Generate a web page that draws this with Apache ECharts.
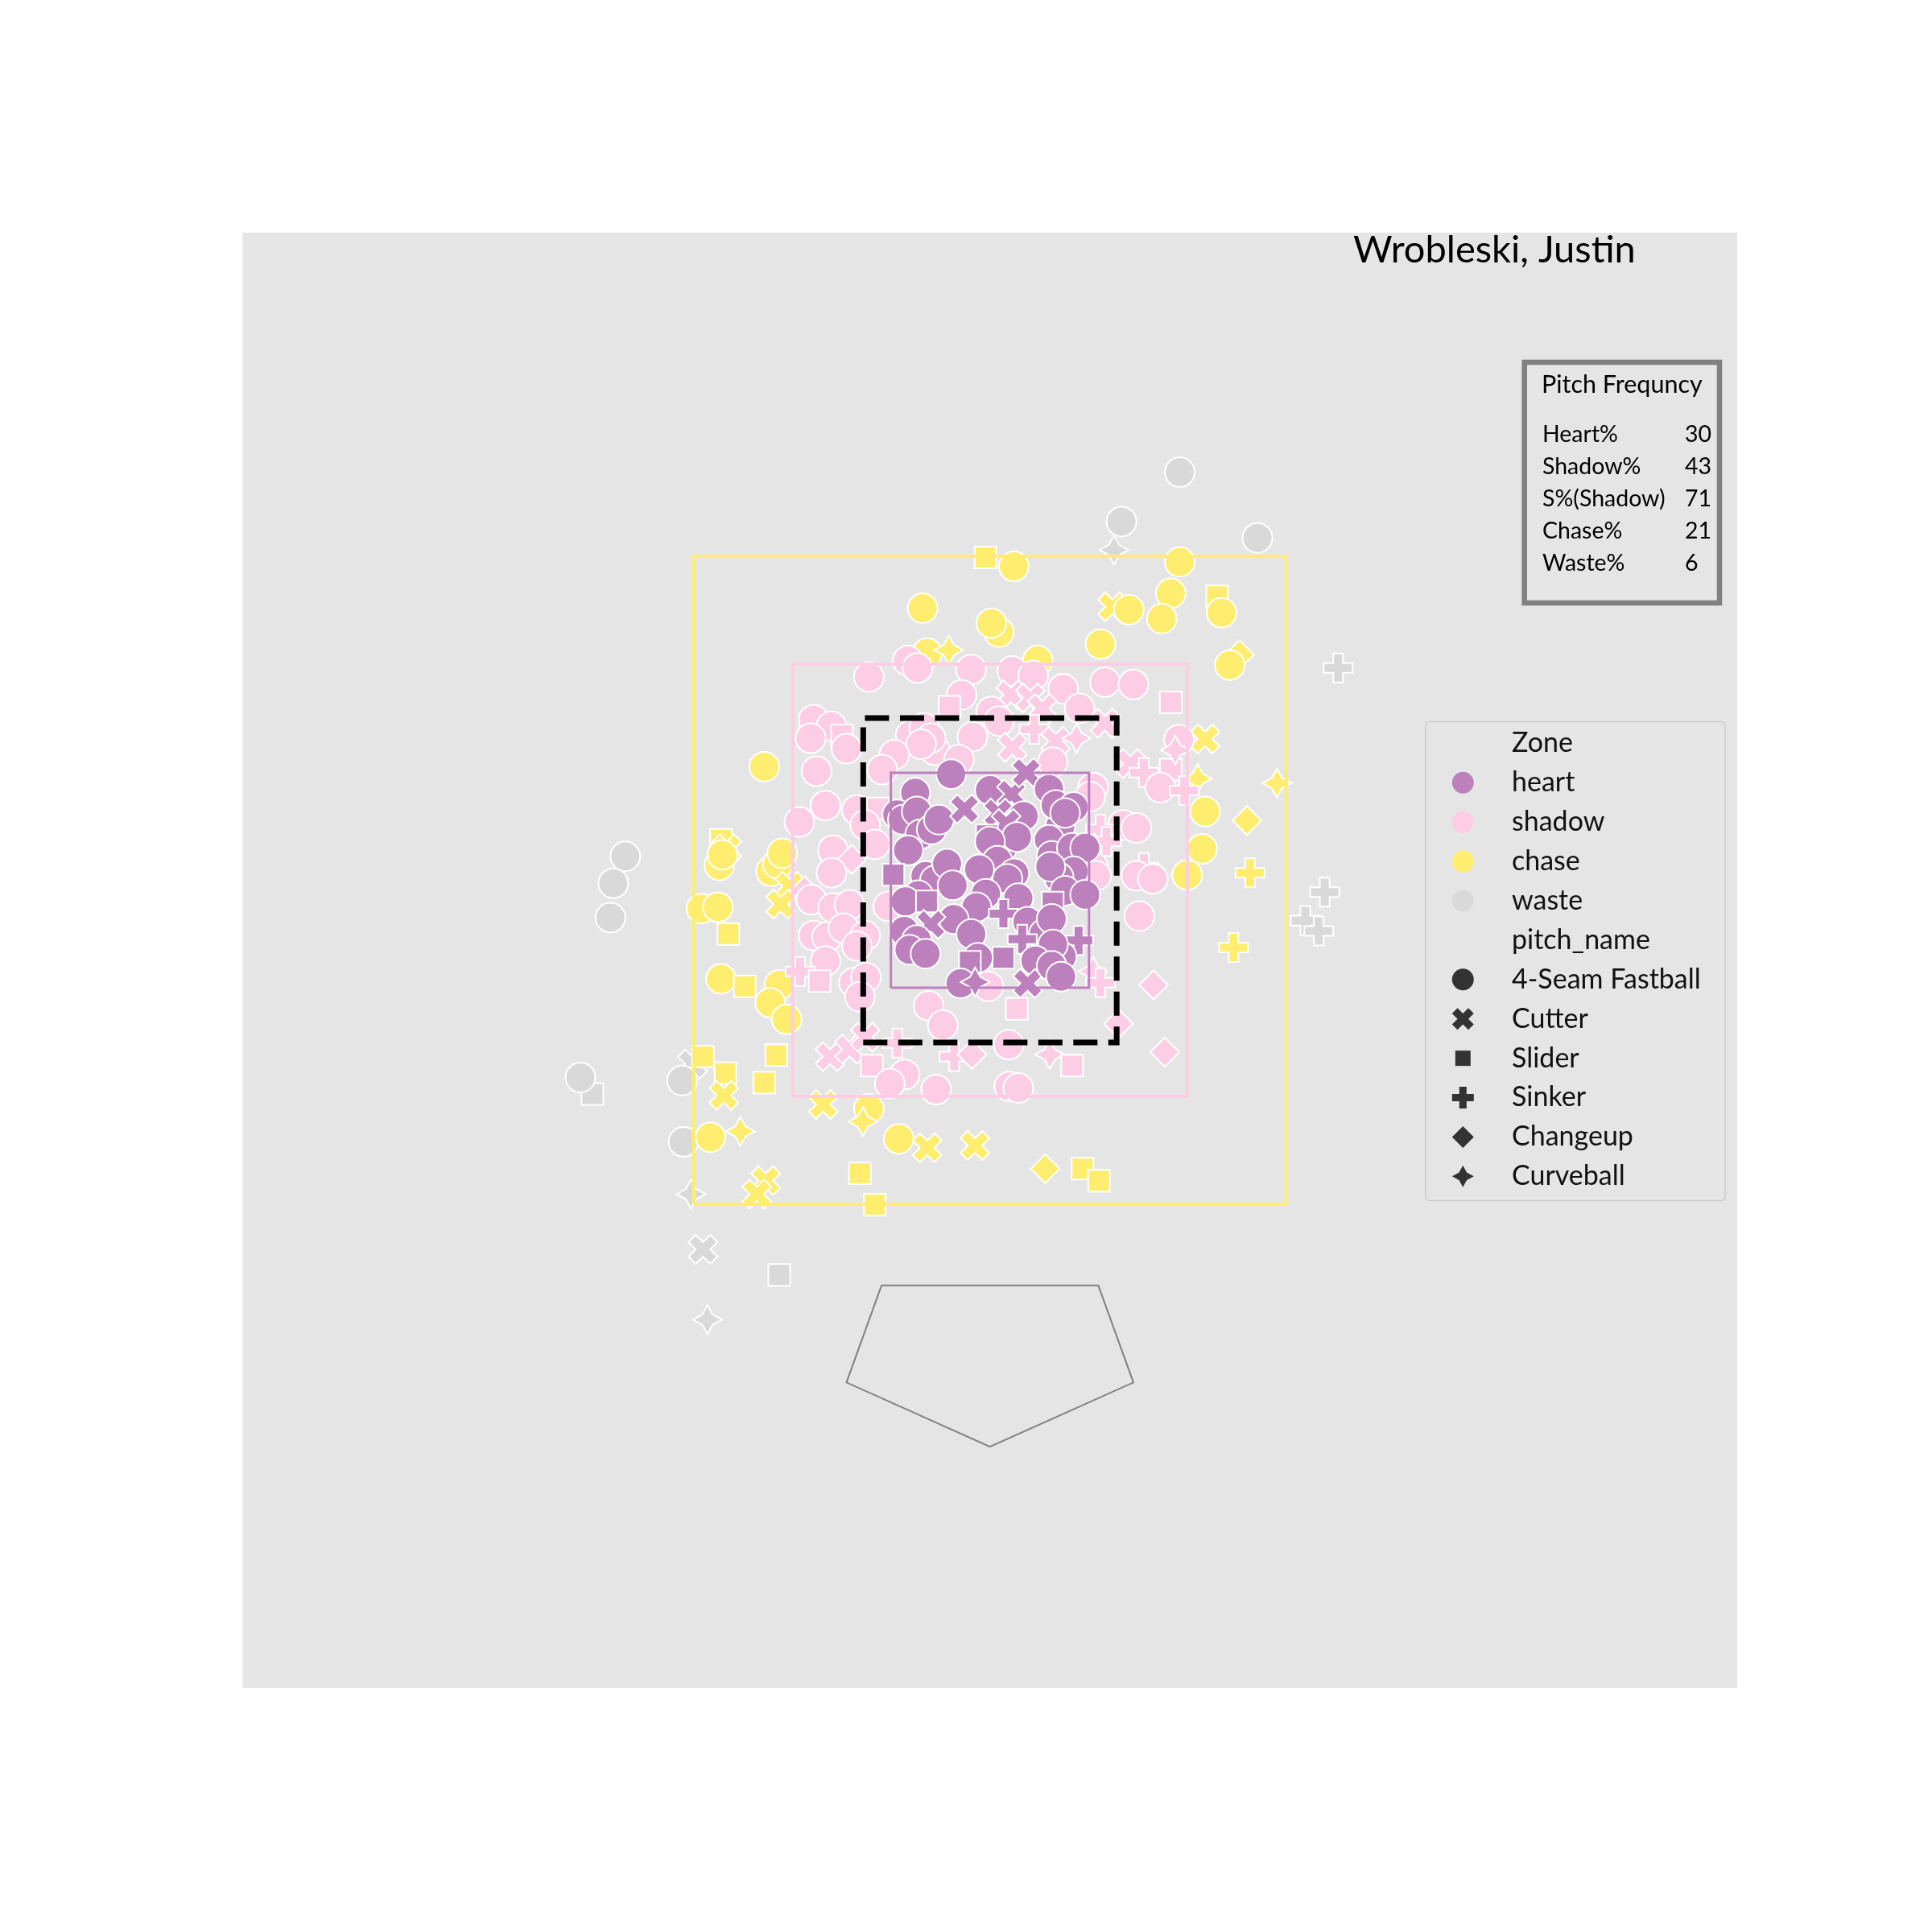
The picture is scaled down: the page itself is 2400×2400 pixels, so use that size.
<!DOCTYPE html>
<html><head><meta charset="utf-8">
<script src="https://cdn.jsdelivr.net/npm/echarts@6/dist/echarts.min.js"></script>
<style>html,body{margin:0;padding:0;background:#fff}#c{width:2400px;height:2400px}</style>
</head><body><div id="c"></div>
<script>
// ---------- data (plate_x / plate_z in inches) ----------
const chartTitle = 'Wrobleski, Justin';
const pitchCodes = ['FF', 'FC', 'SL', 'SI', 'CH', 'CU'];
const pitchNames = ['4-Seam Fastball', 'Cutter', 'Slider', 'Sinker', 'Changeup', 'Curveball'];
const zoneNames = ['heart', 'shadow', 'chase', 'waste'];
const zoneColors = ['#BC80BD', '#FCCDE5', '#FFED6F', '#D9D9D9'];
const freqTitle = 'Pitch Frequncy';
const freqLabels = ['Heart%', 'Shadow%', 'S%(Shadow)', 'Chase%', 'Waste%'];
const freqValues = [30, 43, 71, 21, 6];

const waste = [
  [12.7,57.3,'FF'],[8.8,54.0,'FF'],[17.9,52.9,'FF'],[8.3,52.1,'CU'],[23.3,44.2,'SI'],
  [-24.4,31.6,'FF'],[-25.2,29.8,'FF'],[-25.4,27.5,'FF'],[22.4,29.2,'SI'],[21.1,27.3,'SI'],[22.0,26.6,'SI'],
  [-26.6,15.7,'SL'],[-27.4,16.8,'FF'],[-19.9,17.7,'FC'],[-20.6,16.6,'FF'],[-20.5,12.5,'FF'],
  [-20.0,9.0,'CU'],[-19.2,5.3,'FC'],[-14.1,3.6,'SL'],[-18.9,0.6,'CU']
];

const chase = [
  [-0.3,51.6,'SL'],[1.6,51.0,'FF'],[-4.5,48.2,'FF'],[0.6,46.6,'FF'],[0.1,47.2,'FF'],[-4.2,45.2,'FF'],
  [-2.75,45.4,'CU'],[3.2,44.7,'FF'],[7.4,45.8,'FF'],
  [12.7,51.3,'FF'],[12.1,49.2,'FF'],[11.5,47.5,'FF'],[8.2,48.3,'FC'],[9.3,48.1,'FF'],[15.2,49.0,'SL'],
  [15.5,47.9,'FF'],[16.7,45.1,'CH'],[16.05,44.4,'FF'],[14.4,39.45,'FC'],
  [13.9,36.8,'CU'],[19.2,36.5,'CU'],[14.4,34.6,'FF'],[17.2,34.0,'CH'],[14.2,32.1,'FF'],[13.2,30.35,'FF'],
  [17.4,30.5,'SI'],[16.3,25.5,'SI'],
  [-18.0,32.7,'SL'],[-18.1,31.0,'FF'],[-17.6,32.1,'FC'],[-17.9,31.7,'FF'],[-15.1,37.6,'FF'],
  [-14.65,30.6,'FF'],[-14.2,31.1,'FF'],[-13.9,31.8,'FF'],[-13.4,29.6,'FC'],[-14.0,28.4,'FC'],
  [-19.3,28.1,'FF'],[-18.2,28.2,'FF'],[-17.5,26.4,'SL'],[-18.0,23.4,'FF'],[-16.4,22.9,'SL'],
  [-14.1,23.0,'FF'],[-14.7,21.8,'FF'],[-13.6,20.7,'FF'],
  [-19.2,18.2,'SL'],[-17.7,17.1,'SL'],[-14.3,18.3,'SL'],[-15.1,16.45,'SL'],[-17.8,15.6,'FC'],
  [-11.15,15.0,'FC'],[-18.7,12.8,'FF'],[-16.7,13.2,'CU'],[-15.0,9.9,'FC'],[-15.6,9.0,'FC'],
  [-8.1,14.7,'FF'],[-8.5,13.85,'CU'],[-6.1,12.7,'FF'],[-4.2,12.1,'FC'],[-1.0,12.25,'FC'],
  [-8.7,10.4,'SL'],[-7.7,8.3,'SL'],[3.7,10.7,'CH'],[6.2,10.7,'SL'],[7.3,9.9,'SL']
];

const shadow = [
  [-8.1,43.6,'FF'],[-5.5,44.7,'FF'],[-4.85,44.2,'FF'],[-1.26,44.1,'FF'],[1.5,44.0,'FF'],[2.9,43.7,'FF'],
  [4.9,42.8,'FF'],[7.7,43.25,'FF'],[9.6,43.1,'FF'],[12.1,41.9,'SL'],[-1.9,42.4,'FF'],[1.4,42.4,'FC'],[2.7,42.2,'FC'],
  [3.5,41.5,'FC'],[0.1,41.3,'FF'],[0.6,40.65,'FF'],[6.0,41.5,'FF'],[-2.7,41.6,'SL'],[-5.3,39.7,'FF'],
  [-4.4,40.2,'FF'],[-3.7,38.7,'FF'],[-3.96,39.5,'FF'],[-4.6,39.1,'FF'],[-1.17,39.6,'FF'],[2.96,40.1,'SI'],
  [7.7,40.5,'FC'],[-11.8,40.75,'FF'],[-10.6,40.3,'FF'],[-12.0,39.5,'FF'],[-9.9,39.7,'SL'],[-9.6,38.8,'FF'],[-6.4,38.4,'FF'],
  [-7.2,37.4,'FF'],[-2.07,38.06,'FF'],[1.5,38.9,'FC'],[4.4,39.3,'FC'],[5.8,39.5,'CU'],[4.2,37.9,'FF'],
  [9.4,37.8,'FC'],[10.3,37.2,'SI'],[12.1,37.4,'SL'],[12.65,39.4,'FF'],[12.4,38.7,'CU'],[-11.6,37.3,'FF'],
  [-11.0,35.0,'FF'],[-12.75,33.9,'FF'],[-8.9,34.7,'FF'],[-7.5,34.8,'SL'],[-8.35,33.7,'FF'],[6.9,36.2,'FF'],
  [6.7,35.6,'FF'],[11.4,36.2,'FF'],[13.0,36.0,'SI'],[8.9,33.7,'FF'],[9.8,33.5,'FF'],[7.4,33.4,'SI'],[7.8,32.6,'SI'],
  [-10.5,32.0,'FF'],[-7.7,32.4,'FF'],[-9.25,31.4,'CH'],[-10.6,30.5,'FF'],[6.9,30.9,'FF'],[7.1,30.3,'FF'],
  [10.3,30.85,'SI'],[9.8,30.3,'FF'],[10.9,30.1,'FF'],
  [-12.4,29.3,'CH'],[-11.95,28.7,'FF'],[-10.5,28.15,'FF'],[-9.4,28.35,'FF'],[-6.8,28.25,'FF'],[10.0,27.6,'FF'],
  [-11.8,26.3,'FF'],[-10.9,26.2,'FF'],[-9.8,26.8,'FF'],[-8.35,26.3,'FF'],[-8.9,25.6,'FF'],
  [-11.0,24.6,'FF'],[-12.7,23.9,'SI'],[-11.4,23.25,'SL'],[-9.1,23.15,'FF'],[-8.3,23.5,'FF'],[-8.7,22.2,'FF'],
  [6.9,23.9,'CU'],[7.4,23.15,'SI'],[10.95,23.0,'CH'],[-0.1,22.9,'FF'],[1.8,21.4,'SL'],
  [-4.1,21.6,'FF'],[-3.15,20.3,'FF'],[8.6,20.4,'CH'],[1.25,19.0,'FF'],[4.0,18.35,'CU'],[11.7,18.5,'CH'],
  [-2.4,18.2,'SI'],[-1.2,18.35,'CH'],[-6.2,19.1,'SI'],[-10.7,18.2,'FC'],[-9.4,18.7,'FC'],[-8.35,19.5,'FC'],[-7.9,17.6,'SL'],
  [5.5,17.6,'SL'],[1.3,16.2,'FF'],[1.9,16.1,'FF'],[-3.6,16.0,'FF'],[-5.7,17.0,'FF'],[-6.7,16.4,'FF']
];

const heart = [
  [-2.6,37.1,'FF'],[-5.0,35.85,'FF'],[-6.2,34.4,'FF'],[-5.83,34.05,'FF'],[-4.9,34.6,'FF'],[-4.67,33.07,'FF'],
  [-3.9,33.4,'FF'],[-3.41,34.05,'FF'],[-5.47,32.0,'FF'],[-1.7,34.77,'FC'],[0.0,36.03,'FF'],[1.44,35.76,'FC'],
  [2.43,37.2,'FC'],[3.95,36.1,'FF'],[4.7,33.6,'FF'],[4.4,35.04,'FF'],[5.6,34.9,'FF'],[5.03,34.5,'FF'],
  [2.25,34.3,'FF'],[0.54,34.5,'FC'],[1.08,33.8,'FC'],[-0.2,33.0,'SL'],[0.81,32.17,'FF'],[1.8,32.9,'FF'],
  [0.0,32.6,'FF'],[3.95,32.7,'FF'],[4.13,31.63,'FF'],[5.48,32.17,'FF'],[6.37,32.17,'FF'],[5.6,30.6,'FF'],
  [4.6,30.2,'FF'],[4.04,30.9,'FF'],[0.5,31.3,'FF'],[1.62,30.46,'FF'],[1.17,30.1,'FF'],[-0.72,30.73,'FF'],
  [-3.2,30.5,'FF'],[-4.31,30.28,'FF'],[-3.68,30.0,'FF'],[-2.87,31.1,'FF'],[-2.5,29.66,'FF'],[-6.46,30.37,'SL'],
  [5.03,29.3,'FF'],[6.37,29.03,'FF'],[4.2,28.5,'SL'],[-4.8,29.0,'FF'],[-5.65,28.58,'FF'],[-4.22,28.58,'SL'],
  [-0.27,29.1,'FF'],[1.9,28.8,'FF'],[-0.9,28.2,'FF'],[-2.42,27.4,'FF'],[-3.95,27.05,'FC'],[-5.74,26.6,'FF'],
  [-4.9,26.0,'FF'],[-1.25,26.4,'FF'],[0.9,27.77,'SI'],[2.52,27.23,'FF'],[3.6,26.4,'FF'],[4.13,27.41,'FF'],
  [5.93,25.97,'SI'],[2.16,26.06,'SI'],[4.8,24.9,'FF'],[4.22,25.7,'FF'],[3.05,24.63,'FF'],[0.9,24.81,'SL'],
  [-0.8,24.81,'FF'],[-1.34,24.54,'SL'],[-5.38,25.35,'FF'],[-4.31,25.08,'FF'],[-1.97,23.1,'FF'],[-0.99,23.19,'CU'],
  [2.52,23.1,'FC'],[4.13,24.27,'FF'],[4.76,23.55,'FF']
];

// zone boxes (inches): [xmin, xmax, ymin, ymax]
const chaseBox = [-19.82, 19.82, 8.32, 51.68];
const shadowBox = [-13.2, 13.2, 15.54, 44.46];
const heartBox = [-6.63, 6.63, 22.81, 37.19];
const strikeZone = [-8.48, 8.48, 19.15, 40.85];
const homePlate = [[-7.25,2.9],[7.25,2.9],[9.6,-3.6],[0,-7.9],[-9.6,-3.6],[-7.25,2.9]];

// ---------- marker shapes ----------
const T_X = [[0.25,0],[0.5,0.25],[0.75,0],[1,0.25],[0.75,0.5],[1,0.75],[0.75,1],[0.5,0.75],[0.25,1],[0,0.75],[0.25,0.5],[0,0.25]];
const T_P = [[1/3,0],[2/3,0],[2/3,1/3],[1,1/3],[1,2/3],[2/3,2/3],[2/3,1],[1/3,1],[1/3,2/3],[0,2/3],[0,1/3],[1/3,1/3]];
const T_D = [[0.5,0],[1,0.5],[0.5,1],[0,0.5]];
const T_S = [[0.5,0],[0.677,0.323],[1,0.5],[0.677,0.677],[0.5,1],[0.323,0.677],[0,0.5],[0.323,0.323]];
const toPath = t => 'path://' + t.map((p,i)=>(i?'L':'M')+p[0].toFixed(3)+','+p[1].toFixed(3)).join(' ') + ' Z';
const SYM = ['circle', toPath(T_X), 'rect', toPath(T_P), 'diamond', toPath(T_S)];
const SIZE = [37, 36, 27, 36, 36, 36];

function boxLine(b) {
  return [[b[0],b[2]],[b[1],b[2]],[b[1],b[3]],[b[0],b[3]],[b[0],b[2]]];
}
function scatterSeries(pts, color) {
  return {
    type: 'scatter', silent: true, animation: false, z: 2,
    data: pts.map(p => [p[0], p[1], pitchCodes.indexOf(p[2])]),
    symbol: v => SYM[v[2]],
    symbolSize: v => SIZE[v[2]],
    itemStyle: { color: color, borderColor: '#ffffff', borderWidth: 2, opacity: 1 },
    emphasis: { disabled: true }
  };
}
function lineSeries(data, color, width, type) {
  return {
    type: 'line', data: data, symbol: 'none', showSymbol: false, silent: true, animation: false, z: 3,
    lineStyle: { color: color, width: width, type: type || 'solid', cap: 'butt', join: 'miter' },
    emphasis: { disabled: true }
  };
}

// ---------- legend / table graphics ----------
const FONT = 'Lato, "DejaVu Sans", sans-serif';
const G = [];
G.push({ type: 'text', x: 1681, y: 311, z: 10,
  style: { text: chartTitle, font: '47px ' + FONT, fill: '#000', textAlign: 'left', textVerticalAlign: 'middle', align: 'left', verticalAlign: 'middle' } });

// pitch frequency box
G.push({ type: 'rect', z: 10, shape: { x: 1893.7, y: 450, width: 242.3, height: 299 },
  style: { fill: '#E5E5E5', stroke: '#808080', lineWidth: 6.5 } });
G.push({ type: 'text', x: 1915, y: 478, z: 11,
  style: { text: freqTitle, font: '30.5px ' + FONT, fill: '#000', textAlign: 'left', textVerticalAlign: 'middle', align: 'left', verticalAlign: 'middle' } });
freqLabels.forEach((lab, i) => {
  const y = 540 + i * 40;
  G.push({ type: 'text', x: 1916, y: y, z: 11,
    style: { text: lab, font: '28.5px ' + FONT, fill: '#000', textAlign: 'left', textVerticalAlign: 'middle', align: 'left', verticalAlign: 'middle' } });
  G.push({ type: 'text', x: 2093, y: y, z: 11,
    style: { text: String(freqValues[i]), font: '28.5px ' + FONT, fill: '#000', textAlign: 'left', textVerticalAlign: 'middle', align: 'left', verticalAlign: 'middle' } });
});

// legend box
G.push({ type: 'rect', z: 10, shape: { x: 1771, y: 896.5, width: 372, height: 595, r: 5 },
  style: { fill: '#E5E5E5', stroke: '#CCCCCC', lineWidth: 1.5 } });
const rowY = k => 923.4 + k * 48.9;
const legendText = (t, k) => G.push({ type: 'text', x: 1878, y: rowY(k), z: 11,
  style: { text: t, font: '34px ' + FONT, fill: '#111', textAlign: 'left', textVerticalAlign: 'middle', align: 'left', verticalAlign: 'middle' } });
const iconX = 1817.3;
function polyIcon(t, cx, cy, s, color) {
  return { type: 'polygon', z: 11, shape: { points: t.map(p => [cx - s/2 + p[0]*s, cy - s/2 + p[1]*s]) }, style: { fill: color } };
}
legendText('Zone', 0);
zoneNames.forEach((z, i) => {
  G.push({ type: 'circle', z: 11, shape: { cx: iconX, cy: rowY(i + 1), r: 13.5 }, style: { fill: zoneColors[i] } });
  legendText(z, i + 1);
});
legendText('pitch_name', 5);
const dark = '#333333';
pitchNames.forEach((p, i) => {
  const cy = rowY(i + 6);
  if (i === 0) G.push({ type: 'circle', z: 11, shape: { cx: iconX, cy: cy, r: 13.5 }, style: { fill: dark } });
  else if (i === 1) G.push(polyIcon(T_X, iconX, cy, 27, dark));
  else if (i === 2) G.push({ type: 'rect', z: 11, shape: { x: iconX - 9.5, y: cy - 9.5, width: 19, height: 19 }, style: { fill: dark } });
  else if (i === 3) G.push(polyIcon(T_P, iconX, cy, 27, dark));
  else if (i === 4) G.push(polyIcon(T_D, iconX, cy, 27, dark));
  else G.push(polyIcon(T_S, iconX, cy, 27, dark));
  legendText(p, i + 6);
});

const chart = echarts.init(document.getElementById('c'), null, { renderer: 'canvas' });
chart.setOption({
  backgroundColor: '#ffffff',
  animation: false,
  grid: { left: 301.5, top: 289, width: 1856.5, height: 1808, show: true, backgroundColor: '#E5E5E5', borderWidth: 0 },
  xAxis: { type: 'value', min: -50, max: 50, show: false },
  yAxis: { type: 'value', min: -24.05, max: 73.33, show: false },
  series: [
    scatterSeries(waste, zoneColors[3]),
    scatterSeries(chase, zoneColors[2]),
    scatterSeries(shadow, zoneColors[1]),
    scatterSeries(heart, zoneColors[0]),
    lineSeries(boxLine(chaseBox), zoneColors[2], 4),
    lineSeries(boxLine(shadowBox), zoneColors[1], 4),
    lineSeries(boxLine(heartBox), zoneColors[0], 3),
    lineSeries(boxLine(strikeZone), '#000000', 7, [30, 13.5]),
    lineSeries(homePlate, '#808080', 2)
  ],
  graphic: { elements: G }
});
</script></body></html>
